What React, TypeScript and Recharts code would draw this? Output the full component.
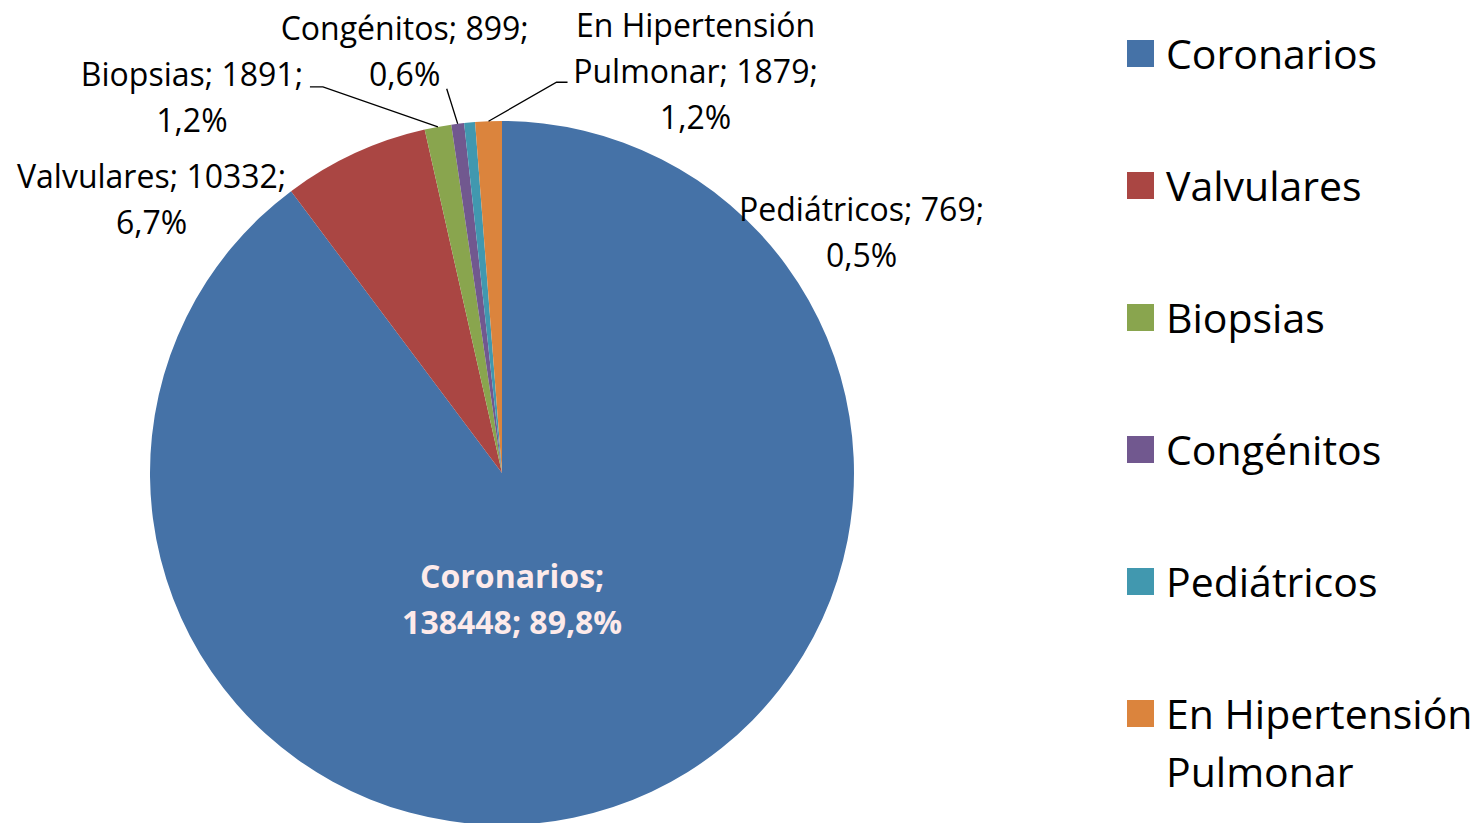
import { PieChart, Pie, Cell, Legend } from 'recharts'

const categories = ['Coronarios', 'Valvulares', 'Biopsias', 'Congénitos', 'Pediátricos', 'En Hipertensión Pulmonar']
const counts = [138448, 10332, 1891, 899, 769, 1879]
const colors = ['#4572A7', '#AA4643', '#89A54E', '#71588F', '#4198AF', '#DB843D']

// words per line of each data label (Excel wraps them this way)
const labelWrap = [[1, 2], [2, 1], [2, 1], [2, 1], [2, 1], [2, 2, 1]]

// label block centre relative to the slice's outer mid point, plus leader line points relative to block centre
const labelLayout: { dx: number; dy: number; leader?: [number, number][] }[] = [
  { dx: -101, dy: -208 },
  { dx: -203, dy: 46 },
  { dx: -246, dy: -29, leader: [[131, -11], [118, -11]] },
  { dx: -53, dy: -72, leader: [[42, 37]] },
  { dx: 392, dy: 110 },
  { dx: 207, dy: -50, leader: [[-139, 11], [-128, 11]] },
]

const data = categories.map((name, i) => ({ name, value: counts[i] }))

const FONT = '"Open Sans", "Noto Sans", sans-serif'
const LABEL_SIZE = 32
const LINE_H = 46
const RAD = Math.PI / 180

const fmtPct = (p: number) => `${(p * 100).toFixed(1).replace('.', ',')}%`

const renderLabel = (props: any) => {
  const { cx, cy, midAngle, outerRadius, index, percent, value, name } = props
  const ax = cx + outerRadius * Math.cos(-midAngle * RAD)
  const ay = cy + outerRadius * Math.sin(-midAngle * RAD)
  const lay = labelLayout[index]
  const bx = ax + lay.dx
  const by = ay + lay.dy

  const words = `${name}; ${value}; ${fmtPct(percent)}`.split(' ')
  const lines: string[] = []
  let k = 0
  labelWrap[index].forEach((n) => {
    lines.push(words.slice(k, k + n).join(' '))
    k += n
  })
  const top = by - ((lines.length - 1) * LINE_H) / 2
  const inside = index === 0

  return (
    <g key={`lbl-${index}`}>
      {lay.leader && (
        <polyline
          points={[[ax, ay], ...lay.leader.map(([x, y]) => [bx + x, by + y])].map((p) => p.join(',')).join(' ')}
          fill="none"
          stroke="#000"
          strokeWidth={1.3}
        />
      )}
      <text
        textAnchor="middle"
        fontFamily={FONT}
        fontSize={LABEL_SIZE}
        fontWeight={inside ? 700 : 400}
        fill={inside ? '#fdeaea' : '#000'}
      >
        {lines.map((l, i) => (
          <tspan key={i} x={bx} y={top + i * LINE_H + LABEL_SIZE * 0.36}>
            {l}
          </tspan>
        ))}
      </text>
    </g>
  )
}

const renderLegend = (props: any) => {
  // keep the data order, not the alphabetical one
  const items = [...(props.payload || [])].sort(
    (a: any, b: any) => categories.indexOf(a.value) - categories.indexOf(b.value)
  )
  return (
    <div style={{ fontFamily: FONT, fontSize: 41, color: '#000' }}>
      {items.map((entry: any, i: number) => (
        <div key={i} style={{ display: 'flex', alignItems: 'flex-start', height: 132 }}>
          <div style={{ width: 27, height: 27, background: entry.color, marginTop: 16, marginRight: 12, flex: 'none' }} />
          <div style={{ width: 312, lineHeight: '58px' }}>{entry.value}</div>
        </div>
      ))}
    </div>
  )
}

export default function App() {
  return (
    <div style={{ position: 'absolute', left: 0, top: 0, width: 1482, height: 823, background: '#fff', overflow: 'hidden' }}>
      <PieChart width={1482} height={823} margin={{ top: 0, right: 0, bottom: 0, left: 0 }}>
        <Pie
          data={data}
          dataKey="value"
          nameKey="name"
          cx={502}
          cy={473}
          outerRadius={352}
          startAngle={90}
          endAngle={-270}
          stroke="none"
          label={renderLabel}
          labelLine={false}
          isAnimationActive={false}
        >
          {data.map((d, i) => (
            <Cell key={d.name} fill={colors[i]} />
          ))}
        </Pie>
        <Legend
          layout="vertical"
          align="right"
          verticalAlign="top"
          content={renderLegend}
          wrapperStyle={{ position: 'absolute', left: 1127, top: 24, width: 355 }}
        />
      </PieChart>
    </div>
  )
}
